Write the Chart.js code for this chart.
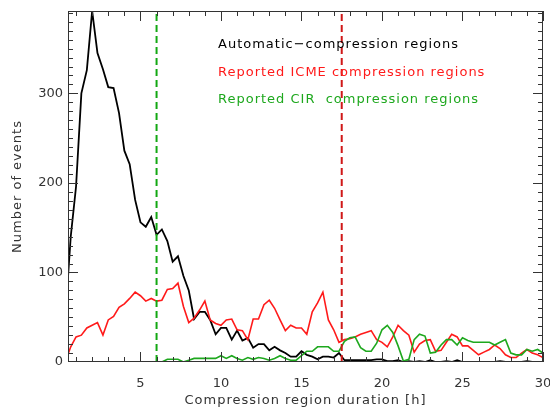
<!DOCTYPE html>
<html>
<head>
<meta charset="utf-8">
<title>Compression region durations</title>
<script src="https://cdn.jsdelivr.net/npm/chart.js@4.4.1/dist/chart.umd.min.js"></script>
<style>
  html, body { margin: 0; padding: 0; background: #fff; }
  #wrap { width: 550px; height: 413px; }
</style>
</head>
<body>
<div id="wrap"><canvas id="grafico" width="550" height="413"></canvas></div>
<script>
// bin centres, hours (20 min bins)
const duracoes = [
  0.33, 0.67, 1, 1.33, 1.67, 2, 2.33, 2.67, 3, 3.33,
  3.67, 4, 4.33, 4.67, 5, 5.33, 5.67, 6, 6.33, 6.67,
  7, 7.33, 7.67, 8, 8.33, 8.67, 9, 9.33, 9.67, 10,
  10.33, 10.67, 11, 11.33, 11.67, 12, 12.33, 12.67, 13, 13.33,
  13.67, 14, 14.33, 14.67, 15, 15.33, 15.67, 16, 16.33, 16.67,
  17, 17.33, 17.67, 18, 18.33, 18.67, 19, 19.33, 19.67, 20,
  20.33, 20.67, 21, 21.33, 21.67, 22, 22.33, 22.67, 23, 23.33,
  23.67, 24, 24.33, 24.67, 25, 25.33, 25.67, 26, 26.33, 26.67,
  27, 27.33, 27.67, 28, 28.33, 28.67, 29, 29.33, 29.67, 30
];

const eventosAuto = [
  50, 140, 196, 300, 326, 392, 345, 327, 307, 306,
  278, 236, 221, 181, 156, 151, 162, 142, 148, 135,
  112, 118, 96, 80, 48, 56, 56, 47, 31, 38,
  38, 25, 35, 24, 27, 16, 20, 20, 13, 17,
  13, 10, 6, 6, 12, 8, 6, 3, 6, 6,
  5, 10, 2, 2, 2, 2, 2, 2, 3, 3,
  1, 1, 2, 0, 1, 0, 1, 0, 2, 0,
  0, 1, 0, 2, 0, 0, 0, 0, 0, 0,
  0, 1, 0, 0, 0, 0, 1, 0, 0, 0
];

const eventosICME = [
  0, 17, 28, 30, 38, 41, 44, 30, 47, 51,
  61, 65, 71, 78, 74, 68, 71, 68, 69, 81,
  82, 88, 62, 44, 49, 58, 68, 47, 43, 41,
  47, 48, 36, 35, 25, 48, 48, 64, 69, 60,
  47, 35, 41, 38, 38, 31, 56, 66, 78, 47,
  36, 22, 25, 26, 28, 31, 33, 35, 25, 22,
  17, 28, 41, 35, 30, 11, 20, 24, 25, 12,
  13, 22, 31, 28, 18, 18, 13, 8, 11, 14,
  19, 15, 8, 5, 5, 10, 14, 10, 8, 5
];

const eventosCIR = [
  0, 0, 0, 0, 0, 0, 0, 0, 0, 0,
  0, 0, 0, 0, 0, 0, 0, 0, 0, 3,
  3, 3, 0, 2, 4, 4, 4, 4, 4, 7,
  4, 7, 4, 2, 5, 3, 5, 4, 2, 4,
  7, 4, 2, 2, 7, 12, 12, 17, 17, 17,
  12, 12, 23, 27, 28, 16, 12, 12, 21, 36,
  41, 33, 18, 1, 3, 25, 31, 29, 10, 11,
  19, 25, 25, 19, 27, 24, 22, 22, 22, 22,
  19, 22, 25, 10, 8, 8, 14, 12, 14, 10
];

const ticksX = [5, 10, 15, 20, 25, 30];
const ticksY = [0, 100, 200, 300];
const limiteCIR = 6;
const limiteICME = 17.5;

const tituloX = "Compression region duration [h]";
const tituloY = "Number of events";
const legendas = [
  { texto: "Automatic\u2212compression regions", cor: "#000000" },
  { texto: "Reported ICME compression regions", cor: "#ff1a1a" },
  { texto: "Reported CIR  compression regions", cor: "#1ea81e" }
];

const X_MIN = 0.5, X_MAX = 30, Y_MIN = 0, Y_MAX = 392;
const FONTE = "'DejaVu Sans', sans-serif";
const COR_EIXO = "#333333";

function pontos(valores) {
  return duracoes.map((x, i) => ({ x: x, y: valores[i] }));
}

function linhaVertical(x) {
  return [{ x: x, y: Y_MIN }, { x: x, y: Y_MAX }];
}

// box around the plot with inward ticks on all four sides, plus the wide-spaced texts
const molduraTicks = {
  id: "molduraTicks",
  afterDraw(chart) {
    const { ctx, chartArea: a, scales: { x, y } } = chart;
    ctx.save();
    ctx.strokeStyle = COR_EIXO;
    ctx.lineWidth = 1;
    ctx.strokeRect(Math.round(a.left) + 0.5, Math.round(a.top) + 0.5,
      Math.round(a.right - a.left) - 1, Math.round(a.bottom - a.top) - 1);

    ctx.beginPath();
    for (let v = 1; v <= X_MAX; v++) {
      if (v <= X_MIN) continue;
      const px = Math.round(x.getPixelForValue(v)) + 0.5;
      const len = v % 5 === 0 ? 10 : 5;
      ctx.moveTo(px, a.bottom); ctx.lineTo(px, a.bottom - len);
      ctx.moveTo(px, a.top); ctx.lineTo(px, a.top + len);
    }
    for (let v = 10; v < Y_MAX; v += 10) {
      const py = Math.round(y.getPixelForValue(v)) + 0.5;
      const len = v % 100 === 0 ? 10 : 5;
      ctx.moveTo(a.left, py); ctx.lineTo(a.left + len, py);
      ctx.moveTo(a.right, py); ctx.lineTo(a.right - len, py);
    }
    ctx.stroke();

    ctx.font = "13px " + FONTE;
    ctx.letterSpacing = "1px";
    ctx.textBaseline = "middle";

    // series labels in their line colours
    ctx.textAlign = "left";
    legendas.forEach((l, i) => {
      ctx.fillStyle = l.cor;
      ctx.fillText(l.texto, 218, 45 + i * 27.5);
    });

    // axis titles
    ctx.fillStyle = COR_EIXO;
    ctx.textAlign = "center";
    ctx.fillText(tituloX, (a.left + a.right) / 2, 401);
    ctx.translate(18, (a.top + a.bottom) / 2);
    ctx.rotate(-Math.PI / 2);
    ctx.fillText(tituloY, 0, 0);
    ctx.restore();
  }
};

new Chart(document.getElementById("grafico"), {
  type: "line",
  data: {
    datasets: [
      {
        label: "CIR limit",
        data: linhaVertical(limiteCIR),
        borderColor: "#12a812",
        borderWidth: 2,
        borderDash: [7, 4],
        order: 0
      },
      {
        label: "ICME limit",
        data: linhaVertical(limiteICME),
        borderColor: "#d01818",
        borderWidth: 2,
        borderDash: [7, 4],
        order: 0
      },
      {
        label: legendas[2].texto,
        data: pontos(eventosCIR),
        borderColor: "#1ea81e",
        borderWidth: 1.6,
        order: 1
      },
      {
        label: legendas[1].texto,
        data: pontos(eventosICME),
        borderColor: "#ff1a1a",
        borderWidth: 1.6,
        order: 2
      },
      {
        label: legendas[0].texto,
        data: pontos(eventosAuto),
        borderColor: "#000000",
        borderWidth: 1.8,
        order: 3
      }
    ]
  },
  options: {
    responsive: false,
    animation: false,
    devicePixelRatio: 1,
    layout: { padding: { top: 11, right: 7, left: 0, bottom: 0 } },
    elements: {
      point: { radius: 0 },
      line: { tension: 0, fill: false }
    },
    plugins: {
      legend: { display: false },
      tooltip: { enabled: false }
    },
    scales: {
      x: {
        type: "linear",
        min: X_MIN,
        max: X_MAX,
        afterBuildTicks: s => { s.ticks = ticksX.map(v => ({ value: v })); },
        afterFit: s => { s.height = 51; s.paddingLeft = 0; s.paddingRight = 0; },
        grid: { display: false, drawTicks: false },
        border: { display: false },
        ticks: {
          padding: 14,
          color: COR_EIXO,
          font: { family: FONTE, size: 13 },
          maxRotation: 0
        }
      },
      y: {
        type: "linear",
        min: Y_MIN,
        max: Y_MAX,
        afterBuildTicks: s => { s.ticks = ticksY.map(v => ({ value: v })); },
        afterFit: s => { s.width = 68; s.paddingTop = 0; s.paddingBottom = 0; },
        grid: { display: false, drawTicks: false },
        border: { display: false },
        ticks: {
          padding: 5,
          color: COR_EIXO,
          font: { family: FONTE, size: 13 }
        }
      }
    }
  },
  plugins: [molduraTicks]
});
</script>
</body>
</html>
